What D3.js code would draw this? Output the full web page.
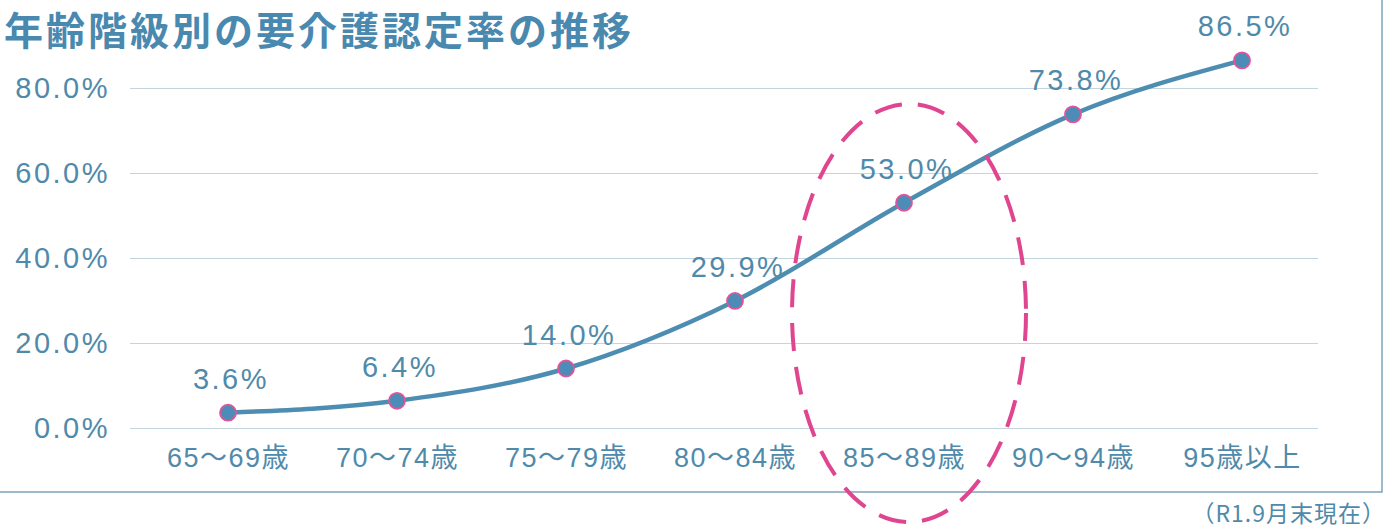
<!DOCTYPE html>
<html>
<head>
<meta charset="utf-8">
<script src="https://cdn.jsdelivr.net/npm/d3@7"></script>
<style>
  body { margin: 0; background: #fff; }
  svg { display: block; }
</style>
</head>
<body>
<svg id="chart" width="1393" height="528"></svg>
<script>
// data
const ageGroups = ["65〜69歳", "70〜74歳", "75〜79歳", "80〜84歳", "85〜89歳", "90〜94歳", "95歳以上"];
const rates = [3.6, 6.4, 14.0, 29.9, 53.0, 73.8, 86.5];
const yTicks = [0, 20, 40, 60, 80];
const highlight = "85〜89歳";

const blue = "#4d8db2";
const textBlue = "#4f8aaa";
const pink = "#e0468f";

const svg = d3.select("#chart");
const font = "'Liberation Sans', 'Noto Sans CJK JP', sans-serif";

let margin = {top: 0, left: 130, right: 75, bottom: 100};

// Scales
let x = d3.scalePoint()
    .domain(ageGroups)
    .range([228, 1242]);
let y = d3.scaleLinear()
    .domain([0, 80])
    .range([428, 88]);

// Frame
svg.append("path")
    .attr("d", "M0,492 H1382 V0")
    .attr("fill", "none")
    .attr("stroke", "#7fa3b8")
    .attr("stroke-width", 1.5);

// Title
svg.append("text")
    .text("年齢階級別の要介護認定率の推移")
    .attr("x", 4)
    .attr("y", 45)
    .attr("fill", "#4a89af")
    .attr("font-size", 39)
    .attr("font-weight", "bold")
    .attr("letter-spacing", 3)
    .attr("font-family", "'Noto Sans CJK JP', sans-serif");

// Grid
let yAxis = d3.axisLeft(y)
    .tickValues(yTicks)
    .tickSize(-(1318 - margin.left))
    .tickPadding(20)
    .tickFormat(d => d3.format(".1f")(d) + "%");
let yg = svg.append("g")
    .attr("transform", `translate(${margin.left},0)`)
    .call(yAxis);
yg.select(".domain").remove();
yg.selectAll(".tick line")
    .attr("stroke", "#c3d6e0")
    .attr("stroke-width", 1.2);
yg.selectAll(".tick text")
    .attr("fill", textBlue)
    .attr("font-size", 29)
    .attr("letter-spacing", 2.5)
    .attr("font-family", font);

// X labels
let xAxis = d3.axisBottom(x).tickSize(0).tickPadding(0);
let xg = svg.append("g")
    .attr("transform", "translate(0,448)")
    .call(xAxis);
xg.select(".domain").remove();
xg.selectAll(".tick text")
    .attr("dy", "0.71em")
    .attr("fill", textBlue)
    .attr("font-size", 27)
    .attr("letter-spacing", 1.5)
    .attr("font-family", font);

// Line
svg.append("path")
    .datum(rates)
    .attr("fill", "none")
    .attr("stroke", blue)
    .attr("stroke-width", 4.5)
    .attr("stroke-linejoin", "round")
    .attr("d", d3.line()
        .x((d, i) => x(ageGroups[i]))
        .y(d => y(d))
        .curve(d3.curveMonotoneX));

// Points
svg.selectAll(".dot")
    .data(rates)
    .enter().append("circle")
    .attr("class", "dot")
    .attr("cx", (d, i) => x(ageGroups[i]))
    .attr("cy", d => y(d))
    .attr("r", 8)
    .attr("fill", "#4c8cb6")
    .attr("stroke", "#e0559a")
    .attr("stroke-width", 1.8);

// Value labels
svg.selectAll(".val")
    .data(rates)
    .enter().append("text")
    .attr("class", "val")
    .attr("x", (d, i) => x(ageGroups[i]) + 3)
    .attr("y", d => y(d) - 24)
    .attr("text-anchor", "middle")
    .attr("fill", textBlue)
    .attr("font-size", 29)
    .attr("letter-spacing", 2.5)
    .attr("font-family", font)
    .text(d => d3.format(".1f")(d) + "%");

// Highlight ellipse
svg.append("ellipse")
    .attr("cx", x(highlight) + 5)
    .attr("cy", 313)
    .attr("rx", 117)
    .attr("ry", 209)
    .attr("fill", "none")
    .attr("stroke", pink)
    .attr("stroke-width", 4)
    .attr("stroke-dasharray", "28 16");

// Note
svg.append("text")
    .text("（R1.9月末現在）")
    .attr("x", 1386)
    .attr("y", 522)
    .attr("text-anchor", "end")
    .attr("fill", textBlue)
    .attr("font-size", 23)
    .attr("letter-spacing", 1)
    .attr("font-family", "'Noto Sans CJK JP', sans-serif");
</script>
</body>
</html>
